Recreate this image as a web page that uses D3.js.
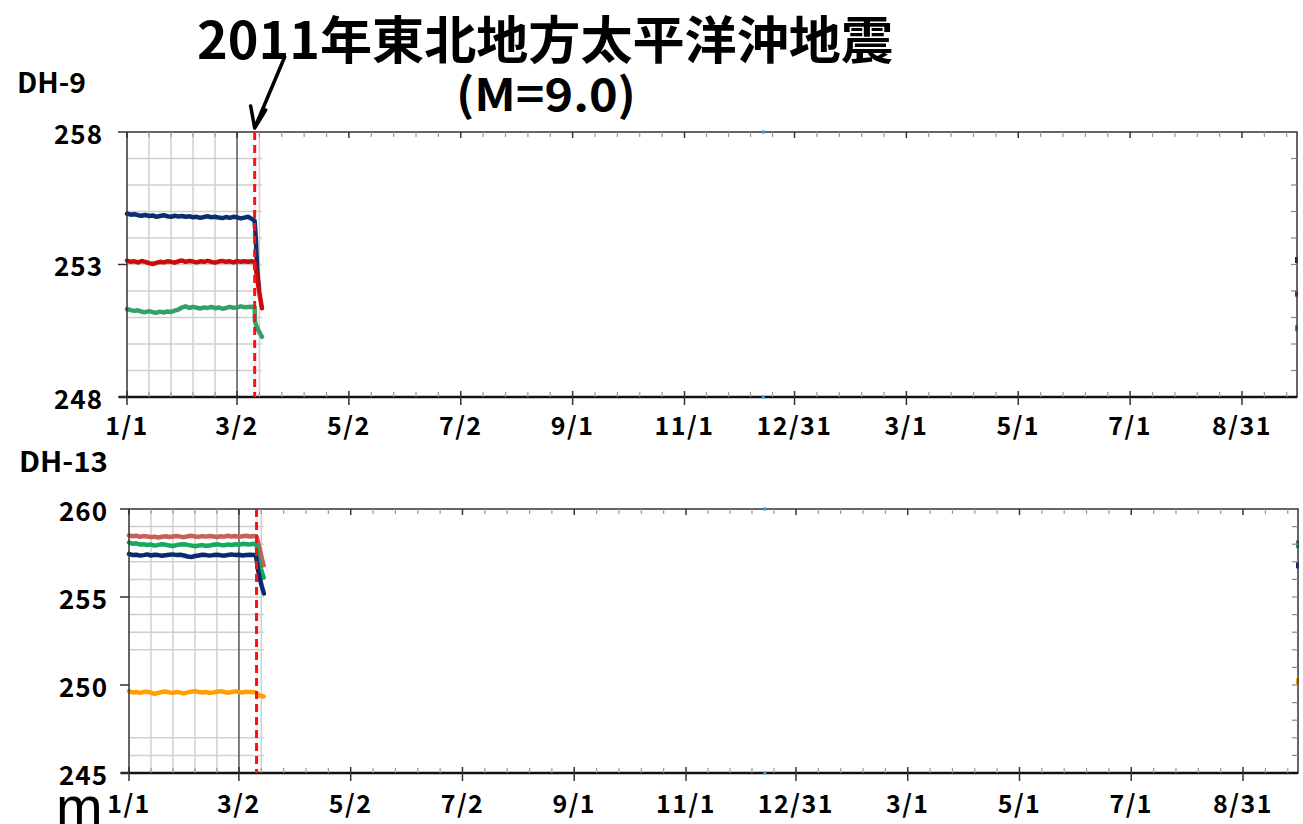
<!DOCTYPE html>
<html><head><meta charset="utf-8">
<script src="https://cdn.jsdelivr.net/npm/d3@7"></script>
<style>body{margin:0;background:#fff}svg{display:block}</style>
</head><body>
<svg id="c" width="1303" height="824"></svg>
<script>
// ---------------- DATA ----------------
const tickDates = ["2011-01-01","2011-03-02","2011-05-02","2011-07-02","2011-09-01","2011-11-01","2011-12-31","2012-03-01","2012-05-01","2012-07-01","2012-08-31"];
const tickLabels = ["1/1","3/2","5/2","7/2","9/1","11/1","12/31","3/1","5/1","7/1","8/31"];
const domainDates = ["2011-01-01","2012-09-30"];
const quakeDate = "2011-03-11T14:46:00Z";
const gridEndDay = 73.6;           // grid of the enlarged early period
const cyanMarkDate = "2011-12-14";

// days since 2011-01-01 for the pre-quake samples
const preDays = [0,2,4,6,8,10,12,14,16,18,20,22,24,26,28,30,32,34,36,38,40,42,44,46,48,50,52,54,56,58,60,62,64,66,68];

// DH-9 (m)
const dh9Blue  = [254.92,254.88,254.9,254.86,254.84,254.87,254.83,254.85,254.8,254.83,254.86,254.82,254.8,254.84,254.81,254.83,254.8,254.82,254.78,254.8,254.76,254.79,254.82,254.78,254.8,254.77,254.75,254.79,254.76,254.8,254.78,254.74,254.77,254.8,254.72];
const dh9Red   = [253.15,253.1,253.12,253.08,253.13,253.1,253.05,253.02,253.06,253.1,253.08,253.12,253.1,253.07,253.12,253.15,253.1,253.13,253.11,253.08,253.12,253.1,253.14,253.1,253.07,253.11,253.13,253.1,253.12,253.08,253.13,253.1,253.12,253.1,253.12];
const dh9Green = [251.32,251.28,251.25,251.27,251.22,251.2,251.24,251.2,251.18,251.22,251.19,251.23,251.21,251.26,251.3,251.38,251.42,251.36,251.4,251.37,251.34,251.38,251.36,251.4,251.35,251.38,251.33,251.36,251.4,251.37,251.38,251.42,251.39,251.4,251.41];
const dh9BluePostDays  = [69.6,70.3,71,72];
const dh9BluePost      = [254.65,253.9,252.8,252.1];
const dh9RedPostDays   = [69.6,71,72.5,73.6];
const dh9RedPost       = [253.1,252.5,251.8,251.35];
const dh9GreenPostDays = [69.6,69.8,71,72.5,73.6];
const dh9GreenPost     = [251.4,250.85,250.6,250.4,250.27];
const dh9Last = [253.17,251.9,250.6];   // blue, red, green at the right edge

// DH-13 (m)
const dh13Red    = [258.5,258.45,258.48,258.42,258.46,258.44,258.4,258.43,258.38,258.42,258.45,258.41,258.44,258.47,258.43,258.4,258.45,258.48,258.44,258.42,258.46,258.43,258.47,258.44,258.41,258.45,258.43,258.48,258.44,258.46,258.42,258.45,258.48,258.44,258.46];
const dh13Green  = [258.1,258.02,258.05,257.98,258.0,257.95,257.98,257.92,257.96,258.0,257.97,257.93,257.9,257.95,257.98,258.0,257.96,257.92,257.88,257.92,257.95,257.9,257.93,257.97,258.0,257.96,257.94,257.98,257.95,258.0,257.97,258.02,258.0,257.98,258.03];
const dh13Blue   = [257.45,257.38,257.4,257.35,257.38,257.42,257.36,257.4,257.38,257.34,257.37,257.4,257.42,257.38,257.4,257.36,257.3,257.27,257.33,257.36,257.4,257.38,257.35,257.38,257.4,257.37,257.35,257.39,257.42,257.38,257.4,257.36,257.39,257.4,257.38];
const dh13Orange = [249.65,249.58,249.6,249.55,249.6,249.62,249.56,249.5,249.55,249.6,249.63,249.58,249.55,249.6,249.57,249.52,249.58,249.62,249.65,249.6,249.57,249.6,249.55,249.58,249.62,249.65,249.6,249.56,249.6,249.64,249.6,249.58,249.62,249.6,249.6];
const dh13RedPostDays    = [69.6,71,72.5,73.5];
const dh13RedPost        = [258.45,257.9,257.2,256.8];
const dh13GreenPostDays  = [69.6,70.5,72,73.5];
const dh13GreenPost      = [258.0,257.2,256.6,256.1];
const dh13BluePostDays   = [69.3,70.3,71.5,72.5,73.6];
const dh13BluePost       = [257.38,256.6,256.0,255.6,255.2];
const dh13OrangePostDays = [69.6,71,73.5];
const dh13OrangePost     = [249.55,249.4,249.35];
const dh13Last = [258.05,257.95,256.8,250.2]; // red, green, blue, orange

const dh9Ticks = [248,253,258];
const dh9Grid = [249,250,251,252,253,254,255,256,257];
const dh13Ticks = [245,250,255,260];
const dh13Grid = [246,247,252,253,254,255,256,257,258,259];

// ---------------- DRAW ----------------
const svg = d3.select("#c");
const FONT = "'Noto Sans CJK JP','Noto Sans',sans-serif";
const DAY = 86400000;
const t0 = new Date(domainDates[0]+"T00:00:00Z");
const dayToDate = d => new Date(t0.getTime() + d*DAY);
const parse = s => new Date(s.length>10 ? s : s+"T00:00:00Z");

function buildSeries(pre, postDays, post){
  const pts = preDays.map((d,i)=>[dayToDate(d), pre[i]]);
  postDays.forEach((d,i)=>pts.push([dayToDate(d), post[i]]));
  return pts;
}

function panel(cfg){
  const {left,right,top,bottom,yDomain,ticks,grid,series,last,title,titleX,titleY,titleLen,labelRight} = cfg;
  const x = d3.scaleUtc().domain(domainDates.map(parse)).range([left,right]);
  const y = d3.scaleLinear().domain(yDomain).range([bottom,top]);
  const g = svg.append("g");
  const gridEndX = x(dayToDate(gridEndDay));

  const majors = tickDates.map(parse);
  const minors = [];
  for(let i=0;i<majors.length-1;i++){
    const a=majors[i].getTime(), b=majors[i+1].getTime();
    for(let k=1;k<5;k++) minors.push(new Date(a+(b-a)*k/5));
  }
  const step = (majors[majors.length-1]-majors[majors.length-2])/5;
  for(let t=majors[majors.length-1].getTime()+step; t<x.domain()[1].getTime(); t+=step) minors.push(new Date(t));

  g.selectAll(".hg").data(grid).join("line")
    .attr("x1",left).attr("x2",gridEndX).attr("y1",d=>y(d)).attr("y2",d=>y(d))
    .attr("stroke","#cfcfcf").attr("stroke-width",1.5);
  g.selectAll(".vg").data(minors.filter(d=>x(d)<gridEndX)).join("line")
    .attr("x1",d=>x(d)).attr("x2",d=>x(d)).attr("y1",top).attr("y2",bottom)
    .attr("stroke","#cfcfcf").attr("stroke-width",1.5);
  g.selectAll(".vgm").data(majors.filter(d=>x(d)<gridEndX && x(d)>left+1)).join("line")
    .attr("x1",d=>x(d)).attr("x2",d=>x(d)).attr("y1",top).attr("y2",bottom)
    .attr("stroke","#555").attr("stroke-width",1.5);

  const line = d3.line().x(d=>x(d[0])).y(d=>y(d[1])).curve(d3.curveLinear);
  series.forEach(s=>{
    g.append("path").datum(s.pts).attr("d",line).attr("fill","none")
      .attr("stroke",s.color).attr("stroke-width",4.5).attr("stroke-linejoin","round").attr("stroke-linecap","round");
  });
  last.forEach((v,i)=>{
    g.append("rect").attr("x",right-2).attr("y",y(v)-3).attr("width",3).attr("height",6)
      .attr("fill",series[i].color);
  });

  g.append("rect").attr("x",left).attr("y",top).attr("width",right-left).attr("height",bottom-top)
    .attr("fill","none").attr("stroke","#333").attr("stroke-width",1.5);
  g.append("line").attr("x1",left-8).attr("x2",right).attr("y1",bottom).attr("y2",bottom)
    .attr("stroke","#111").attr("stroke-width",2.5);

  g.selectAll(".mt").data(majors).join("line")
    .attr("x1",d=>x(d)).attr("x2",d=>x(d)).attr("y1",bottom-6).attr("y2",bottom+8)
    .attr("stroke","#333").attr("stroke-width",1.5);
  g.selectAll(".mtt").data(majors).join("line")
    .attr("x1",d=>x(d)).attr("x2",d=>x(d)).attr("y1",top).attr("y2",top+6)
    .attr("stroke","#333").attr("stroke-width",1.5);
  g.selectAll(".mn").data(minors).join("line")
    .attr("x1",d=>x(d)).attr("x2",d=>x(d)).attr("y1",bottom-5).attr("y2",bottom)
    .attr("stroke","#999").attr("stroke-width",1.2);
  g.selectAll(".mnt").data(minors).join("line")
    .attr("x1",d=>x(d)).attr("x2",d=>x(d)).attr("y1",top).attr("y2",top+5)
    .attr("stroke","#999").attr("stroke-width",1.2);
  g.selectAll(".xl").data(majors).join("text")
    .attr("x",d=>x(d)).attr("y",cfg.xLabelY).attr("text-anchor","middle").attr("dominant-baseline","central")
    .attr("font-family",FONT).attr("font-weight","bold").attr("font-size",25).attr("letter-spacing",1.5)
    .text((d,i)=>tickLabels[i]);

  g.selectAll(".yt").data(ticks).join("line")
    .attr("x1",left-9).attr("x2",left).attr("y1",d=>y(d)).attr("y2",d=>y(d))
    .attr("stroke","#333").attr("stroke-width",1.5);
  g.selectAll(".yl").data(ticks).join("text")
    .attr("x",labelRight).attr("y",d=>y(d)).attr("text-anchor","end").attr("dominant-baseline","central")
    .attr("font-family",FONT).attr("font-weight","bold").attr("font-size",26).attr("letter-spacing",1).text(d=>d);
  const units = d3.range(yDomain[0]+1, yDomain[1]);
  g.selectAll(".rt").data(units).join("line")
    .attr("x1",right-6).attr("x2",right).attr("y1",d=>y(d)).attr("y2",d=>y(d))
    .attr("stroke","#888").attr("stroke-width",1.2);

  const cx = x(parse(cyanMarkDate));
  [top,bottom].forEach(yy=>g.append("rect").attr("x",cx-1.5).attr("y",yy-1.5).attr("width",3).attr("height",3).attr("fill","#2aa0e0"));

  const qx = x(parse(quakeDate));
  g.append("line").attr("x1",qx).attr("x2",qx).attr("y1",top).attr("y2",bottom)
    .attr("stroke","#ff1010").attr("stroke-width",3).attr("stroke-dasharray","8,5");

  svg.append("text").attr("x",titleX).attr("y",titleY).attr("font-family",FONT).attr("font-weight","bold")
    .attr("font-size",28).attr("textLength",titleLen).attr("lengthAdjust","spacingAndGlyphs").text(title);
  return {x,y,qx};
}

const p1 = panel({
  left:127,right:1297,top:132,bottom:397,yDomain:[248,258],ticks:dh9Ticks,grid:dh9Grid,
  series:[
    {color:"#0c2d6e",pts:buildSeries(dh9Blue,dh9BluePostDays,dh9BluePost)},
    {color:"#cc0a0a",pts:buildSeries(dh9Red,dh9RedPostDays,dh9RedPost)},
    {color:"#35a06a",pts:buildSeries(dh9Green,dh9GreenPostDays,dh9GreenPost)}
  ],
  last:dh9Last,title:"DH-9",titleX:17,titleY:93,titleLen:69,labelRight:103,xLabelY:424
});
const p2 = panel({
  left:129,right:1298,top:509,bottom:773,yDomain:[245,260],ticks:dh13Ticks,grid:dh13Grid,
  series:[
    {color:"#c8605a",pts:buildSeries(dh13Red,dh13RedPostDays,dh13RedPost)},
    {color:"#19a85e",pts:buildSeries(dh13Green,dh13GreenPostDays,dh13GreenPost)},
    {color:"#0a2a70",pts:buildSeries(dh13Blue,dh13BluePostDays,dh13BluePost)},
    {color:"#ffa000",pts:buildSeries(dh13Orange,dh13OrangePostDays,dh13OrangePost)}
  ],
  last:dh13Last,title:"DH-13",titleX:19,titleY:472,titleLen:89,labelRight:108,xLabelY:802
});

svg.append("text").attr("x",545).attr("y",59).attr("text-anchor","middle")
  .attr("font-family",FONT).attr("font-weight","bold").attr("font-size",51)
  .attr("textLength",696).attr("lengthAdjust","spacingAndGlyphs").text("2011年東北地方太平洋沖地震");
svg.append("text").attr("x",546).attr("y",111).attr("text-anchor","middle")
  .attr("font-family",FONT).attr("font-weight","bold").attr("font-size",45)
  .attr("textLength",180).attr("lengthAdjust","spacingAndGlyphs").text("(M=9.0)");

const tipX = p1.qx, tipY = 128;
svg.append("path").attr("d",`M${tipX+30},${tipY-71} L${tipX},${tipY} M${tipX+11},${tipY-18} L${tipX},${tipY} L${tipX-4},${tipY-22}`)
  .attr("fill","none").attr("stroke","#000").attr("stroke-width",3.5).attr("stroke-linecap","round").attr("stroke-linejoin","round");

svg.append("text").attr("x",56).attr("y",826).attr("font-family","'Liberation Sans',Arial,sans-serif")
  .attr("font-size",56).text("m");
</script>
</body></html>
